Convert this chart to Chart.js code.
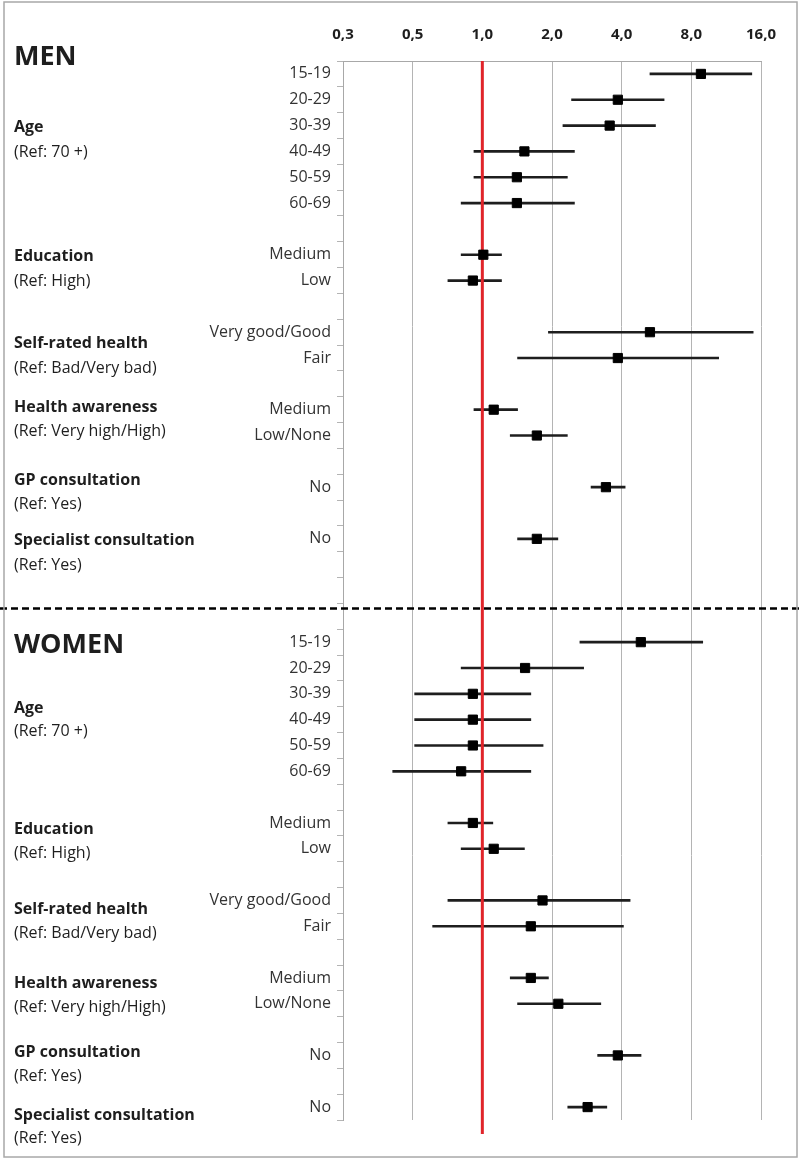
<!DOCTYPE html>
<html>
<head>
<meta charset="utf-8">
<script src="https://cdn.jsdelivr.net/npm/chart.js@4.4.1/dist/chart.umd.min.js"></script>
<style>
  body { margin: 0; background: #fff; }
  #wrap { width: 800px; height: 1159px; position: relative; }
</style>
</head>
<body>
<div id="wrap"><canvas id="forest"></canvas></div>
<script>
// rows of the plot, top to bottom (men first, then women); '' = empty row
var rowLabels = [
  '15-19', '20-29', '30-39', '40-49', '50-59', '60-69', '',
  'Medium', 'Low', '',
  'Very good/Good', 'Fair', '',
  'Medium', 'Low/None', '',
  'No', '',
  'No', '', '', '',
  '15-19', '20-29', '30-39', '40-49', '50-59', '60-69', '',
  'Medium', 'Low', '',
  'Very good/Good', 'Fair', '',
  'Medium', 'Low/None', '',
  'No', '',
  'No'
];

// odds ratios and 95% CI
var oddsRatio = [
  8.8, 3.85, 3.55, 1.52, 1.41, 1.41, null,
  1.01, 0.91, null,
  5.3, 3.85, null,
  1.12, 1.72, null,
  3.42, null,
  1.72, null, null, null,
  4.84, 1.53, 0.91, 0.91, 0.91, 0.81, null,
  0.91, 1.12, null,
  1.82, 1.62, null,
  1.62, 2.13, null,
  3.85, null,
  2.85
];
var ciLow = [
  5.3, 2.43, 2.23, 0.92, 0.92, 0.81, null,
  0.81, 0.71, null,
  1.93, 1.42, null,
  0.92, 1.32, null,
  2.95, null,
  1.42, null, null, null,
  2.64, 0.81, 0.51, 0.51, 0.51, 0.41, null,
  0.71, 0.81, null,
  0.71, 0.61, null,
  1.32, 1.42, null,
  3.15, null,
  2.34
];
var ciHigh = [
  14.6, 6.1, 5.6, 2.5, 2.33, 2.5, null,
  1.21, 1.21, null,
  14.8, 10.5, null,
  1.42, 2.33, null,
  4.14, null,
  2.12, null, null, null,
  8.96, 2.74, 1.62, 1.62, 1.83, 1.62, null,
  1.11, 1.52, null,
  4.35, 4.07, null,
  1.93, 3.25, null,
  4.85, null,
  3.45
];

var xTickValues = [0.25, 0.5, 1, 2, 4, 8, 16];
var xTickLabels = ['0,3', '0,5', '1,0', '2,0', '4,0', '8,0', '16,0'];

var FONT = '"Open Sans", Lato, sans-serif';

// group headings on the left: [text, y, bold, size]
var groupText = [
  ['MEN', 57, true, 27],
  ['Age', 127, true, 16], ['(Ref: 70 +)', 152, false, 16],
  ['Education', 256, true, 16], ['(Ref: High)', 281, false, 16],
  ['Self-rated health', 343, true, 16], ['(Ref: Bad/Very bad)', 368, false, 16],
  ['Health awareness', 407, true, 16], ['(Ref: Very high/High)', 431, false, 16],
  ['GP consultation', 480, true, 16], ['(Ref: Yes)', 504, false, 16],
  ['Specialist consultation', 540, true, 16], ['(Ref: Yes)', 565, false, 16],
  ['WOMEN', 645, true, 27],
  ['Age', 708, true, 16], ['(Ref: 70 +)', 731, false, 16],
  ['Education', 829, true, 16], ['(Ref: High)', 853, false, 16],
  ['Self-rated health', 909, true, 16], ['(Ref: Bad/Very bad)', 933, false, 16],
  ['Health awareness', 983, true, 16], ['(Ref: Very high/High)', 1007, false, 16],
  ['GP consultation', 1052, true, 16], ['(Ref: Yes)', 1076, false, 16],
  ['Specialist consultation', 1115, true, 16], ['(Ref: Yes)', 1138, false, 16]
];

var extras = {
  id: 'extras',
  afterDatasetDraw: function (chart, args) {
    // reference line at OR = 1, drawn over the CI lines but under the squares
    if (args.index !== 1) return;
    var ctx = chart.ctx;
    var x = chart.scales.x.getPixelForValue(1);
    ctx.save();
    ctx.strokeStyle = '#e0242a';
    ctx.lineWidth = 3;
    ctx.beginPath();
    ctx.moveTo(x, chart.chartArea.top);
    ctx.lineTo(x, chart.chartArea.bottom + 14);
    ctx.stroke();
    ctx.restore();
  },
  afterDraw: function (chart) {
    var ctx = chart.ctx;
    var y = chart.scales.y;
    ctx.save();
    ctx.fillStyle = '#1e1e1e';
    ctx.textBaseline = 'middle';
    ctx.textAlign = 'left';
    groupText.forEach(function (g) {
      ctx.font = (g[2] ? 'bold ' : '') + g[3] + 'px ' + FONT;
      ctx.fillText(g[0], 14, g[1]);
    });

    // dashed separator between men and women
    var sepY = y.getPixelForValue(20.7);
    ctx.strokeStyle = '#000';
    ctx.lineWidth = 2.5;
    ctx.setLineDash([7, 4]);
    ctx.beginPath();
    ctx.moveTo(0, sepY);
    ctx.lineTo(800, sepY);
    ctx.stroke();
    ctx.setLineDash([]);

    // outer frame
    ctx.strokeStyle = '#a8a8a8';
    ctx.lineWidth = 1.5;
    ctx.strokeRect(4, 2, 793, 1155);
    ctx.restore();
  }
};

new Chart(document.getElementById('forest'), {
  data: {
    labels: rowLabels,
    datasets: [{
      type: 'line',
      indexAxis: 'y',
      data: oddsRatio,
      showLine: false,
      pointStyle: 'rect',
      pointRadius: 6.5,
      pointBackgroundColor: '#000',
      pointBorderColor: '#000',
      pointBorderWidth: 1
    }, {
      type: 'bar',
      indexAxis: 'y',
      data: ciLow.map(function (l, i) { return l == null ? null : [l, ciHigh[i]]; }),
      backgroundColor: '#1e1e1e',
      barThickness: 2
    }]
  },
  options: {
    indexAxis: 'y',
    responsive: true,
    maintainAspectRatio: false,
    animation: false,
    layout: { padding: { left: 0, top: 0, right: 39, bottom: 39 } },
    plugins: { legend: { display: false }, tooltip: { enabled: false } },
    scales: {
      x: {
        type: 'logarithmic',
        position: 'top',
        min: 0.25,
        max: 16,
        afterBuildTicks: function (s) {
          s.ticks = xTickValues.map(function (v) { return { value: v }; });
        },
        afterFit: function (s) { s.height = 61; },
        ticks: {
          autoSkip: false,
          maxRotation: 0,
          padding: 17,
          color: '#1e1e1e',
          font: { family: FONT, size: 15, weight: 'bold' },
          callback: function (v, i) { return xTickLabels[i]; }
        },
        grid: { color: '#b4b4b4', lineWidth: 1, drawTicks: false },
        border: { color: '#a8a8a8', width: 1 }
      },
      y: {
        type: 'category',
        afterFit: function (s) { s.width = 343; },
        ticks: {
          autoSkip: false,
          padding: 6,
          color: '#333',
          font: { family: FONT, size: 16 }
        },
        grid: {
          offset: true,
          drawOnChartArea: false,
          tickLength: 6,
          color: '#b4b4b4'
        },
        border: { color: '#a8a8a8', width: 1 }
      }
    }
  },
  plugins: [extras]
});
</script>
</body>
</html>
